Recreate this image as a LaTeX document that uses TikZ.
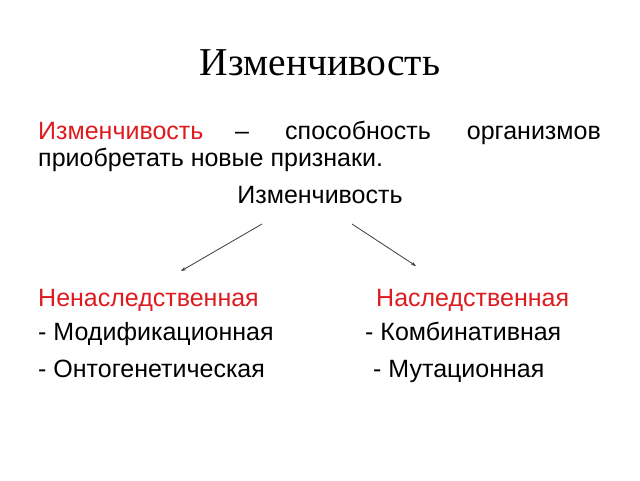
\documentclass[tikz,border=0pt]{standalone}
\usepackage{fontspec}
\setmainfont{Liberation Sans}
\newfontfamily\titlefont{Liberation Serif}
\usetikzlibrary{arrows.meta}
\definecolor{txtred}{RGB}{222,28,32}
\definecolor{arrgray}{RGB}{60,60,60}
\begin{document}
\begin{tikzpicture}[x=1pt,y=-1pt,
  body/.style={inner sep=0pt,font=\fontsize{25}{29}\selectfont},
  redtxt/.style={body,text=txtred},
  conn/.style={draw=arrgray,line width=0.8pt,-{Stealth[length=5pt,width=3.5pt]}}]
\useasboundingbox (0,0) rectangle (640,480);
\fill[white] (0,0) rectangle (640,480);
% title
\node[inner sep=0pt,anchor=base,font=\titlefont\fontsize{39.5}{44}\selectfont] (title) at (320,75) {Изменчивость};
% definition line 1 (justified)
\node[redtxt,anchor=base west] (def1) at (38,139) {Изменчивость};
\node[body,anchor=base] (dash) at (242,139) {–};
\node[body,anchor=base west] (def2) at (285,139) {способность};
\node[body,anchor=base east] (def3) at (601,139) {организмов};
% line 2
\node[body,anchor=base west] (def4) at (38,166) {приобретать новые признаки.};
% centered heading
\node[body,anchor=base] (head) at (320,203) {Изменчивость};
% arrows
\coordinate (la) at (262,224);
\coordinate (lb) at (181,271);
\coordinate (ra) at (352,224);
\coordinate (rb) at (416,266);
\draw[conn] (la) -- (lb);
\draw[conn] (ra) -- (rb);
% columns
\node[redtxt,anchor=base west] (non) at (38,306) {Ненаследственная};
\node[redtxt,anchor=base west] (her) at (376,306) {Наследственная};
\node[body,anchor=base west] (mod) at (38,340) {- Модификационная};
\node[body,anchor=base west] (ont) at (38,377) {- Онтогенетическая};
\node[body,anchor=base west] (comb) at (365,340) {- Комбинативная};
\node[body,anchor=base west] (mut) at (373,377) {- Мутационная};
\end{tikzpicture}
\end{document}
